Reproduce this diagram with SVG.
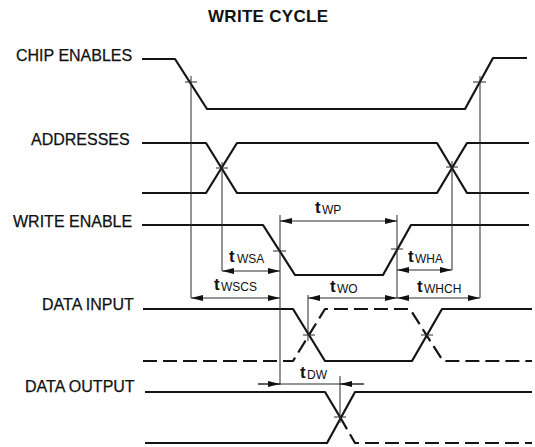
<svg xmlns="http://www.w3.org/2000/svg" width="535" height="447" viewBox="0 0 535 447">
<style>
.sig{fill:none;stroke:#141414;stroke-width:2.2;stroke-linejoin:round}
.dash{stroke-dasharray:14 6}
.dim{fill:none;stroke:#2a2a2a;stroke-width:1}
.arr{fill:none;stroke:#2a2a2a;stroke-width:1;marker-start:url(#ah);marker-end:url(#ah)}
.lbl{font-family:"Liberation Sans",Arial,sans-serif;font-size:16px;fill:#111;stroke:#111;stroke-width:0.25}
.ttl{font-family:"Liberation Sans",Arial,sans-serif;font-size:17px;font-weight:bold;fill:#111}
.t{font-family:"Liberation Sans",Arial,sans-serif;font-size:17px;font-weight:bold;fill:#111}
.sub{font-size:12px;font-weight:normal}
</style>
<defs>
<marker id="ah" viewBox="0 0 12 6" refX="12" refY="3" markerWidth="12" markerHeight="6" markerUnits="userSpaceOnUse" orient="auto-start-reverse"><path d="M0,0 L12,3 L0,6 z" fill="#111"/></marker>
</defs>
<text class="ttl" x="268" y="22" text-anchor="middle" textLength="120">WRITE CYCLE</text>

<g id="chip-enables">
<text class="lbl" x="16" y="61">CHIP ENABLES</text>
<path class="sig" d="M142,59 H175 L207,109 H465 L493,58 H527"/>
</g>
<g id="addresses">
<text class="lbl" x="31" y="145">ADDRESSES</text>
<path class="sig" d="M142,143 H206 L237,193 H437 L467,143 H529"/>
<path class="sig" d="M142,193 H206 L237,143 H437 L467,193 H529"/>
</g>
<g id="write-enable">
<text class="lbl" x="13" y="227">WRITE ENABLE</text>
<path class="sig" d="M142,225 H263 L295,275 H383 L411,225 H529"/>
</g>
<g id="data-input">
<text class="lbl" x="42" y="310">DATA INPUT</text>
<path class="sig" d="M143,309 H293 L325,361 H412 L442,309 H532"/>
<path class="sig dash" d="M143,361 H293 L325,309 H410 L443,361 H532"/>
</g>
<g id="data-output">
<text class="lbl" x="25" y="392">DATA OUTPUT</text>
<path class="sig" d="M145,392 H325 L340,417"/>
<path class="sig dash" d="M340,417 L355,443 H532"/>
<path class="sig" d="M145,443 H327 L355,392 H532"/>
</g>

<g id="connectors">
<path class="dim" d="M191,76 V298 M480,76 V298 M222,162 V271 M452,161 V270 M280,215 V385 M397,215 V298 M308,295 V341 M340,376 V423"/>
<path class="dim" d="M185,82 H197 M473,82 H486 M216,168 H228 M446,167 H458 M273,251 H286 M391,249 H403 M303,335 H315 M421,335 H433 M334,417 H346"/>
<path class="arr" d="M280,221 H397"/>
<path class="arr" d="M222,271 H280"/>
<path class="arr" d="M191,298 H280"/>
<path class="arr" d="M397,270 H452"/>
<path class="arr" d="M397,298 H480"/>
<path class="arr" d="M308,298 H397"/>
<path class="dim" d="M258,384 H364"/>
<path class="dim" d="M258,384 H280" marker-end="url(#ah)"/>
<path class="dim" d="M364,384 H340" marker-end="url(#ah)"/>
</g>

<g id="labels">
<text class="t" x="315" y="213">t<tspan class="sub" x="322" dy="1">WP</tspan></text>
<text class="t" x="229" y="262">t<tspan class="sub" x="237" dy="1">WSA</tspan></text>
<text class="t" x="214" y="290">t<tspan class="sub" x="221" dy="1">WSCS</tspan></text>
<text class="t" x="408" y="262">t<tspan class="sub" x="415" dy="1">WHA</tspan></text>
<text class="t" x="417" y="292">t<tspan class="sub" x="424" dy="1">WHCH</tspan></text>
<text class="t" x="330" y="292">t<tspan class="sub" x="337" dy="1">WO</tspan></text>
<text class="t" x="300" y="378">t<tspan class="sub" x="307" dy="1">DW</tspan></text>
</g>
</svg>
